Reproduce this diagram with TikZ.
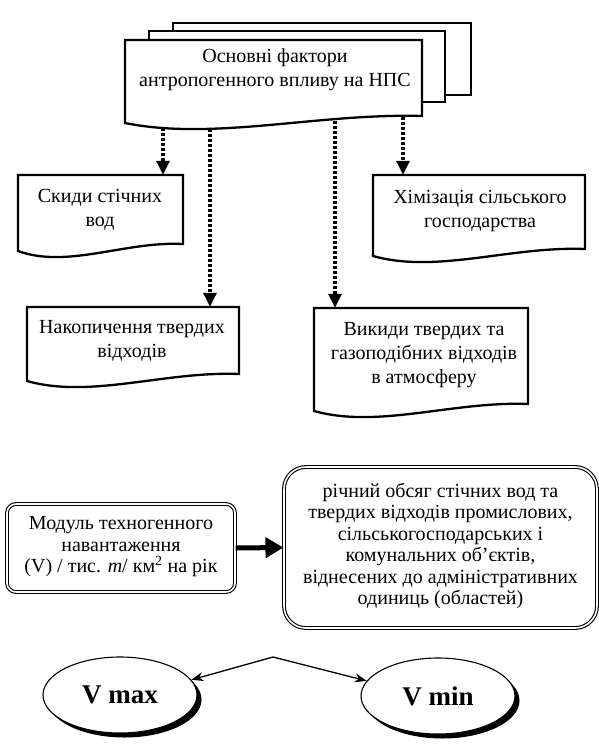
\documentclass[tikz,border=0pt]{standalone}
\usepackage{fontspec}
\setmainfont{Liberation Serif}
\usetikzlibrary{arrows.meta,shapes.geometric,shadows}
\newcommand\docpath[4]{(#1,#2) -- (#3,#2) -- (#3,{#4-7}) .. controls ({#1+0.65*(#3-#1)},{#4-10}) and ({#1+0.3*(#3-#1)},{#4+18}) .. (#1,#4) -- cycle}
\begin{document}
\begin{tikzpicture}[x=1pt,y=-1pt,
  doc/.style={draw=black,line width=2.3pt,fill=white,line join=miter},
  boxnode/.style={draw=none,rectangle,inner sep=0pt},
  txt/.style={align=center,font=\fontsize{20}{24}\selectfont,inner sep=0pt},
  txtb/.style={align=center,font=\fontsize{20}{21.5}\selectfont,inner sep=0pt},
  dotarrow/.style={line width=3.2pt,dash pattern=on 2.8pt off 2.2pt,-{Triangle[length=14pt,width=13pt]}},
  dblbox/.style={draw=black,double=white,double distance=1.6pt,line width=1.1pt,fill=white,rectangle,inner sep=0pt},
  thickarrow/.style={line width=5pt,-{Triangle[length=18pt,width=20pt]}},
  oval/.style={ellipse,draw=black,line width=1.1pt,fill=white,inner sep=0pt,minimum width=154pt,minimum height=76pt,
    drop shadow={shadow xshift=4.5pt,shadow yshift=-4.5pt,fill=black,opacity=1},font=\fontsize{27}{30}\selectfont\bfseries},
  thinarrow/.style={line width=1.3pt,-{Stealth[length=12pt,width=9pt]}}
]
\useasboundingbox (0,0) rectangle (598,747);

% stacked main boxes
\draw[doc] (173,23) rectangle (471,95);
\draw[doc] (149,31) rectangle (445,102);
\draw[doc] \docpath{125}{40}{422}{123};
\node[boxnode,minimum width=297pt,minimum height=83pt] (main) at (273.5,81.5) {};
\node[txt] (mainT) at (275,70) {Основні фактори\\антропогенного впливу на НПС};

% factor boxes
\draw[doc] \docpath{18}{175}{183}{251};
\node[boxnode,minimum width=165pt,minimum height=76pt] (skydy) at (100.5,213) {};
\node[txt] (skydyT) at (100,210) {Скиди стічних\\вод};

\draw[doc] \docpath{27}{307}{239}{381};
\node[boxnode,minimum width=212pt,minimum height=74pt] (nakop) at (133,344) {};
\node[txt] (nakopT) at (132,341) {Накопичення твердих\\відходів};

\draw[doc] \docpath{373}{175}{585}{256};
\node[boxnode,minimum width=212pt,minimum height=81pt] (khim) at (479,215.5) {};
\node[txt] (khimT) at (480,211) {Хімізація сільського\\господарства};

\draw[doc] \docpath{314}{308}{528}{411};
\node[boxnode,minimum width=214pt,minimum height=103pt] (vykyd) at (421,359.5) {};
\node[txt] (vykydT) at (424,355) {Викиди твердих та\\газоподібних відходів\\в атмосферу};

% dotted arrows
\coordinate (s1) at (163,128);
\coordinate (s2) at (210,129);
\coordinate (s3) at (335,121);
\coordinate (s4) at (403,117);
\draw[dotarrow] (s1) -- (skydy.north -| s1);
\draw[dotarrow] (s2) -- (nakop.north -| s2);
\draw[dotarrow] (s3) -- (vykyd.north -| s3);
\draw[dotarrow] (s4) -- (khim.north -| s4);

% bottom section
\node[dblbox,rounded corners=9pt,minimum width=228pt,minimum height=88pt] (modul) at (121,548) {};
\node[txtb] (modulT) at (121,547) {Модуль техногенного\\навантаження\\(V) / тис. {\itshape т}/ км\textsuperscript{2} на рік};

\node[dblbox,rounded corners=22pt,minimum width=313pt,minimum height=161pt] (richny) at (440.5,547.5) {};
\node[txtb] (richnyT) at (440.5,546) {річний обсяг стічних вод та\\твердих відходів промислових,\\сільськогосподарських і\\комунальних об’єктів,\\віднесених до адміністративних\\одиниць (областей)};

\draw[thickarrow] (modul.east) -- (richny.west);

% ovals
\node[oval] (vmax) at (120,695) {V max};
\node[oval] (vmin) at (438,696) {V min};
\coordinate (peak) at (273,657);
\draw[thinarrow] (peak) -- (vmax.12);
\draw[thinarrow] (peak) -- (vmin.168);
\end{tikzpicture}
\end{document}
